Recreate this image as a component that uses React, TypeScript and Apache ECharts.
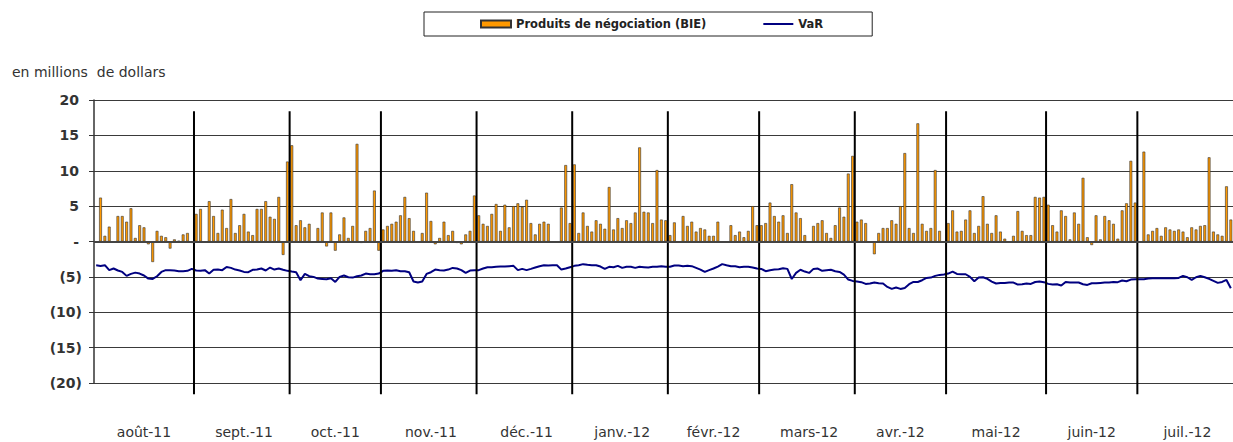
import { useEffect, useRef } from 'react';
import * as echarts from 'echarts';

// Months and number of weekday slots per month
const months = ['août-11', 'sept.-11', 'oct.-11', 'nov.-11', 'déc.-11', 'janv.-12', 'févr.-12', 'mars-12', 'avr.-12', 'mai-12', 'juin-12', 'juil.-12'];
const daysPerMonth = [23, 22, 21, 22, 22, 22, 21, 22, 21, 23, 21, 22];

// Produits de négociation (BIE), millions $, one value per weekday (null = no bar)
const revAug = [null, 6.2, 0.8, 2.1, null, 3.6, 3.6, 2.8, 4.7, 0.5, 2.3, 2.0, -0.4, -2.9, 1.5, 0.8, 0.6, -1.0, 0.3, 0.1, 1.0, 1.2, -0.2];
const revSep = [3.9, 4.6, null, 5.7, 3.6, 1.2, 4.5, 1.9, 6.0, 1.2, 2.3, 3.9, 1.4, 0.9, 4.6, 4.6, 5.7, 3.5, 3.2, 6.3, -1.9, 11.3];
const revOct = [13.6, 2.3, 3.0, 2.0, 2.5, null, 1.9, 4.1, -0.7, 4.1, -1.3, 1.0, 3.4, 0.5, 2.2, 13.8, -0.2, 1.5, 1.9, 7.2, -1.3];
const revNov = [1.7, 2.2, 2.5, 2.8, 3.7, 6.3, 3.3, 1.5, null, 1.2, 6.9, 2.9, -0.4, 0.5, 2.8, 0.9, 1.5, -0.2, -0.4, 1.0, 1.5, 6.5];
const revDec = [3.7, 2.5, 2.2, 3.9, 5.3, 1.5, 5.2, 2.0, 5.0, 5.4, 4.9, 5.9, 2.6, 1.0, 2.5, 2.8, 2.5, null, null, 4.8, 10.8, 2.6];
const revJan = [10.9, 1.2, 4.1, 2.2, 1.4, 3.0, 2.5, 1.8, 7.7, 1.7, 3.3, 1.9, 3.0, 2.6, 4.1, 13.3, 4.2, 4.1, 2.6, 10.1, 3.1, 3.0];
const revFeb = [0.9, 2.7, null, 3.6, 2.2, 2.8, 1.4, 1.9, 1.7, 0.8, 0.8, 2.8, null, null, 2.3, 0.9, 1.4, 0.6, 1.5, 5.0, 2.3];
const revMar = [2.3, 2.6, 5.5, 3.6, 2.8, 3.7, 1.2, 8.1, 4.1, 3.3, 0.9, null, 2.2, 2.6, 3.0, 1.2, 0.5, 2.3, 4.8, 3.5, 9.6, 12.1];
const revApr = [2.8, 3.1, 2.6, null, -1.8, 1.2, 1.9, 1.9, 3.0, 2.5, 5.0, 12.5, 1.9, 1.2, 16.7, 2.5, 1.5, 1.9, 10.1, 1.5, null];
const revMay = [2.6, 4.4, 1.4, 1.5, 3.1, 4.4, 1.2, 2.2, 6.4, 2.5, 1.2, 3.7, 1.4, 0.4, null, 0.8, 4.3, 1.5, 0.9, 0.9, 6.3, 6.2, 6.3];
const revJun = [5.2, 2.3, 1.4, 4.4, 3.6, 0.3, 4.1, 2.5, 9.0, 0.6, -0.5, 3.7, 0.3, 3.6, 3.0, 2.5, 0.4, 4.4, 5.4, 11.4, 5.5];
const revJul = [null, 12.7, 1.0, 1.5, 1.9, 0.8, 2.0, 1.7, 1.5, 1.7, 1.4, 0.6, 2.0, 1.7, 2.2, 2.3, 11.9, 1.4, 1.0, 0.8, 7.8, 3.1];

// VaR, millions $
const varAug = [-3.35, -3.45, -3.35, -4.05, -3.82, -4.1, -4.3, -4.86, -4.58, -4.4, -4.53, -4.8, -5.24, -5.29, -4.91, -4.3, -4.05, -4.05, -4.1, -4.2, -4.2, -4.15, -3.87];
const varSep = [-4.1, -4.15, -4.05, -4.53, -4.0, -3.97, -4.05, -3.6, -3.73, -3.97, -4.1, -4.3, -4.34, -4.0, -3.97, -3.82, -4.1, -3.68, -3.97, -3.82, -4.0, -4.15];
const varOct = [-4.25, -4.34, -5.47, -4.58, -4.91, -5.0, -5.24, -5.29, -5.34, -5.2, -5.72, -5.0, -4.8, -5.05, -5.1, -4.91, -4.8, -4.53, -4.63, -4.63, -4.53];
const varNov = [-4.15, -4.1, -4.15, -4.05, -4.2, -4.2, -4.34, -5.66, -5.8, -5.66, -4.58, -4.34, -3.97, -4.05, -4.1, -3.97, -3.73, -3.82, -4.05, -4.44, -4.1, -4.05];
const varDec = [-4.05, -3.82, -3.63, -3.63, -3.58, -3.54, -3.54, -3.49, -3.44, -4.05, -3.87, -4.05, -3.87, -3.68, -3.49, -3.35, -3.4, -3.35, -3.35, -3.97, -3.82, -3.63];
const varJan = [-3.44, -3.35, -3.2, -3.3, -3.35, -3.35, -3.54, -3.87, -3.58, -3.63, -3.44, -3.73, -3.58, -3.58, -3.73, -3.58, -3.63, -3.68, -3.58, -3.58, -3.49, -3.58];
const varFeb = [-3.58, -3.4, -3.4, -3.49, -3.44, -3.49, -3.73, -3.97, -4.3, -4.05, -3.82, -3.54, -3.2, -3.35, -3.49, -3.49, -3.63, -3.58, -3.58, -3.68, -3.82];
const varMar = [-3.87, -4.2, -4.05, -3.97, -3.92, -3.77, -3.87, -5.3, -4.44, -4.0, -4.25, -4.44, -3.87, -3.82, -4.15, -4.05, -4.0, -4.2, -4.3, -4.67, -5.38, -5.57];
const varApr = [-5.66, -5.75, -5.99, -5.94, -5.8, -5.9, -5.94, -6.42, -6.7, -6.5, -6.7, -6.56, -6.04, -5.72, -5.72, -5.47, -5.15, -5.1, -4.86, -4.72, -4.67];
const varMay = [-4.53, -4.25, -4.58, -4.63, -4.63, -5.0, -5.62, -5.1, -5.05, -5.29, -5.66, -5.94, -5.85, -5.85, -5.8, -5.8, -6.09, -6.04, -5.94, -5.99, -5.72, -5.66, -5.75];
const varJun = [-5.99, -6.09, -6.04, -6.23, -5.72, -5.8, -5.8, -5.8, -6.04, -6.14, -5.9, -5.9, -5.85, -5.8, -5.8, -5.72, -5.75, -5.52, -5.62, -5.38, -5.34];
const varJul = [-5.34, -5.34, -5.24, -5.2, -5.2, -5.2, -5.2, -5.2, -5.2, -5.15, -4.86, -5.05, -5.43, -5.05, -4.86, -5.05, -5.29, -5.57, -5.85, -5.72, -5.43, -6.6];

const yTicks = [-20, -15, -10, -5, 0, 5, 10, 15, 20];

const revenue = [revAug, revSep, revOct, revNov, revDec, revJan, revFeb, revMar, revApr, revMay, revJun, revJul].flat();
const varValues = [varAug, varSep, varOct, varNov, varDec, varJan, varFeb, varMar, varApr, varMay, varJun, varJul].flat();

// categories: one per weekday slot, keyed by month
const categories: string[] = [];
const labelIndex = new Map<number, string>();
const boundaries: number[] = [];
{
  let start = 0;
  months.forEach((m, mi) => {
    const n = daysPerMonth[mi];
    for (let d = 0; d < n; d++) categories.push(m + '|' + (d + 1));
    labelIndex.set(Math.floor(start + n / 2), m);
    if (mi > 0) boundaries.push(start);
    start += n;
  });
}

const FONT = 'DejaVu Sans';

function fmtY(v: number) {
  if (v === 0) return '{n|-}{p| }';
  if (v < 0) return '{n|(' + -v + ')}';
  return '{n|' + v + '}{p| }';
}

export default function App() {
  const ref = useRef<HTMLDivElement>(null);
  useEffect(() => {
    const chart = echarts.init(ref.current!, null, { renderer: 'svg' });
    chart.setOption({
      animation: false,
      backgroundColor: '#fff',
      textStyle: { fontFamily: FONT },
      grid: { left: 94, right: 0, top: 100, bottom: 59, containLabel: false },
      legend: {
        data: [
          { name: 'Produits de négociation (BIE)', icon: 'rect' },
          { name: 'VaR', itemStyle: { color: 'rgba(0,0,0,0)', borderWidth: 0, opacity: 0 } },
        ],
        left: 424,
        top: 12,
        padding: [6, 49, 6, 56],
        borderColor: '#222',
        borderWidth: 1,
        itemWidth: 30,
        itemHeight: 7,
        itemGap: 56,
        selectedMode: false,
        textStyle: { fontFamily: FONT, fontWeight: 'bold', fontSize: 11.5, color: '#222' },
      },
      graphic: [
        {
          type: 'text',
          left: 12,
          top: 65,
          style: { text: 'en millions  de dollars', fontSize: 14, fontFamily: FONT, fill: '#333' },
        },
      ],
      xAxis: {
        type: 'category',
        data: categories,
        boundaryGap: true,
        axisLine: { show: false },
        axisTick: { show: false },
        splitLine: { show: false },
        axisLabel: {
          interval: (i: number) => labelIndex.has(i),
          formatter: (v: string) => v.split('|')[0],
          margin: 42,
          fontSize: 14,
          color: '#333',
          fontFamily: FONT,
        },
      },
      yAxis: {
        type: 'value',
        min: yTicks[0],
        max: yTicks[yTicks.length - 1],
        interval: 5,
        axisLine: { show: true, lineStyle: { color: '#333', width: 1.5 } },
        axisTick: { show: true, length: 5, lineStyle: { color: '#333' } },
        splitLine: { show: true, lineStyle: { color: '#3a3a3a', width: 1 } },
        axisLabel: {
          margin: 12,
          formatter: fmtY,
          rich: {
            n: { fontFamily: FONT, fontWeight: 'bold', fontSize: 14, color: '#333' },
            p: { fontFamily: FONT, fontSize: 14, width: 3 },
          },
        },
      },
      series: [
        {
          name: 'Produits de négociation (BIE)',
          type: 'bar',
          data: revenue,
          barWidth: 2.8,
          itemStyle: { color: '#FF9900', borderColor: '#333', borderWidth: 0.6 },
          markLine: {
            silent: true,
            symbol: 'none',
            label: { show: false },
            lineStyle: { color: '#444', width: 2, type: 'solid' },
            data: [{ yAxis: 0 }],
          },
          z: 2,
        },
        {
          name: 'VaR',
          type: 'line',
          data: varValues,
          symbol: 'none',
          showSymbol: false,
          lineStyle: { color: '#000080', width: 2 },
          itemStyle: { color: '#000080' },
          z: 3,
        },
        {
          type: 'custom',
          silent: true,
          clip: false,
          z: 4,
          data: boundaries.map((b) => [b]),
          renderItem: (params: any, api: any) => {
            const b = api.value(0);
            const band = api.size([1, 0])[0];
            const top = api.coord([b, 18.4]);
            const bot = api.coord([b, -21.6]);
            const x = top[0] - band / 2;
            return {
              type: 'line',
              shape: { x1: x, y1: top[1], x2: x, y2: bot[1] },
              style: { stroke: '#000', lineWidth: 2 },
            };
          },
        },
      ],
    });
    return () => chart.dispose();
  }, []);
  return (
    <div
      ref={ref}
      style={{ position: 'absolute', left: 0, top: 0, width: 1233, height: 442, background: '#fff' }}
    />
  );
}
